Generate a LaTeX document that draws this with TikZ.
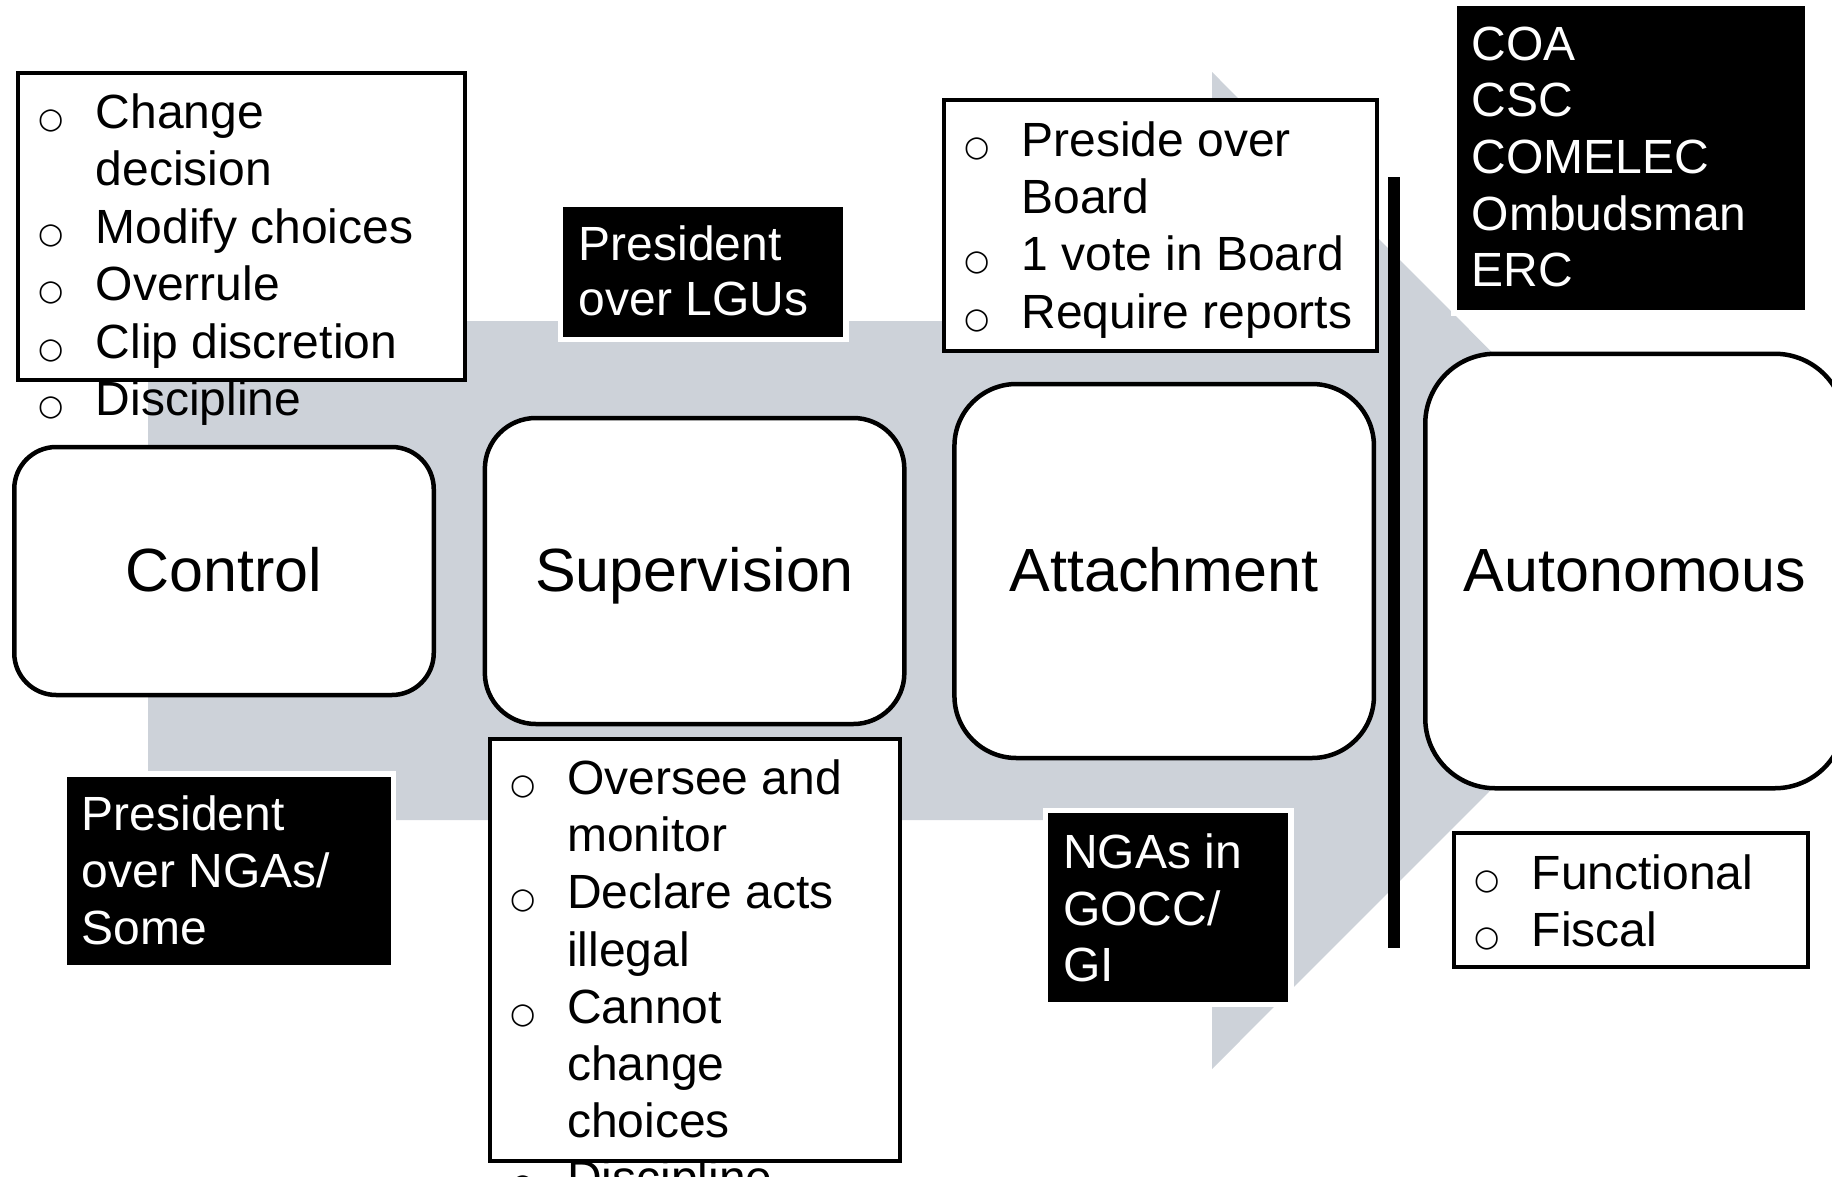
\documentclass[tikz,border=0pt]{standalone}
\usepackage{fontspec}
\setmainfont{Liberation Sans}
\newfontfamily\bulfnt{DejaVu Sans}
\definecolor{arrowgray}{RGB}{205,210,217}
\newcommand\lbul{\makebox[44.5pt][l]{\makebox[0pt]{\fontsize{29}{29}\bulfnt ○}}}
\newcommand\lind{\hspace*{44.5pt}}
\newcommand\txtrows[2]{\fontsize{48}{#1}\selectfont\begin{tabular}[t]{@{}l@{}}#2\end{tabular}}
\tikzset{
  stage/.style={draw=black, line width=4.5pt, fill=white, rounded corners=#1, inner sep=0pt,
    text height=40pt, text depth=0pt, font=\fontsize{61}{73}\selectfont},
  listbox/.style={draw=black, line width=4pt, fill=white, inner sep=0pt},
  darkbox/.style={draw=white, line width=5.5pt, fill=black, inner sep=0pt},
  listtext/.style={anchor=base west, inner sep=0pt, text=black},
  darktext/.style={anchor=base west, inner sep=0pt, text=white},
}
\begin{document}
\begin{tikzpicture}[x=1pt, y=-1pt]
\useasboundingbox (0,0) rectangle (1832,1176);
\clip (0,0) rectangle (1832,1176);
% big grey arrow
\fill[arrowgray] (148,321) -- (1212,321) -- (1212,72) -- (1710,570.5)
  -- (1212,1069) -- (1212,820) -- (148,820) -- cycle;
% stages
\node[stage=42pt, minimum width=419.5pt, minimum height=248pt] (ctl) at (224,571) {Control};
\node[stage=51pt, minimum width=419.5pt, minimum height=306pt] (sup) at (694.6,571) {Supervision};
\node[stage=62pt, minimum width=419.5pt, minimum height=374pt] (att) at (1164.2,571) {Attachment};
\node[stage=70pt, minimum width=419.5pt, minimum height=434.5pt] (aut) at (1635,571) {Autonomous};
% separator bar
\fill[black] (1388,177) rectangle (1400,948);
% list boxes
\node[listbox, minimum width=447pt, minimum height=307.3pt] (lista) at (241.2,226.35) {};
\node[listbox, minimum width=410pt, minimum height=422pt] (listb) at (694.7,950) {};
\node[listbox, minimum width=433.3pt, minimum height=250.7pt] (listc) at (1160.35,225.65) {};
\node[listbox, minimum width=353.6pt, minimum height=134pt] (listd) at (1630.8,900) {};
% dark boxes
\node[darkbox, minimum width=285.5pt, minimum height=135.5pt] (boxe) at (703.3,271.7) {};
\node[darkbox, minimum width=329.5pt, minimum height=193.8pt] (boxf) at (228.7,870.9) {};
\node[darkbox, minimum width=245.5pt, minimum height=194pt] (boxg) at (1168.3,907.5) {};
\node[darkbox, minimum width=354pt, minimum height=309.6pt] (boxh) at (1630.8,158) {};
% list texts
\node[listtext] (ta) at (51,128.5) {\txtrows{57.4pt}{\lbul Change\\ \lind decision\\ \lbul Modify choices\\ \lbul Overrule\\ \lbul Clip discretion\\ \lbul Discipline}};
\node[listtext] (tb) at (522.5,794.5) {\txtrows{57.2pt}{\lbul Oversee and\\ \lind monitor\\ \lbul Declare acts\\ \lind illegal\\ \lbul Cannot\\ \lind change\\ \lind choices\\ \lbul Discipline}};
\node[listtext] (tc) at (976.7,156.7) {\txtrows{57.1pt}{\lbul Preside over\\ \lind Board\\ \lbul 1 vote in Board\\ \lbul Require reports}};
\node[listtext] (td) at (1487,889.3) {\txtrows{57.4pt}{\lbul Functional\\ \lbul Fiscal}};
% dark texts
\node[darktext] (te) at (578.5,260) {\txtrows{55pt}{President\\ over LGUs}};
\node[darktext] (tf) at (81.5,830) {\txtrows{57pt}{President\\ over NGAs/\\ Some}};
\node[darktext] (tg) at (1063,868.3) {\txtrows{56.7pt}{NGAs in\\ GOCC/\\ GI}};
\node[darktext] (th) at (1471.5,60) {\txtrows{56.7pt}{COA\\ CSC\\ COMELEC\\ Ombudsman\\ ERC}};
\end{tikzpicture}
\end{document}
